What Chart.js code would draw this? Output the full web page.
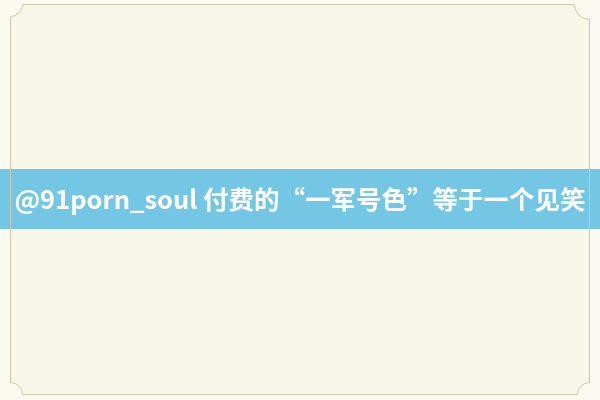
<!doctype html>
<html lang="zh">
<head>
<meta charset="utf-8" />
<title>见笑</title>
<script src="https://cdn.jsdelivr.net/npm/chart.js"></script>
<style>
  html, body { margin: 0; padding: 0; background: #fbfaf0; }
  canvas { display: block; }
</style>
</head>
<body>
<canvas id="card" width="600" height="400"></canvas>
<script>
  // banner headline, the only text in the picture
  const headline = '@91porn_soul 付费的“一军号色”等于一个见笑';
  const categories = [];
  const values = [];

  const paper = '#f8f6e7';
  const paperEdge = '#fbfaf0';
  const frameColor = '#cdc8aa';
  const bannerColor = '#74c6e5';
  const bannerTop = 169;
  const bannerBottom = 229;

  function frame(ctx, w, h) {
    const l = 10.5, t = 4.5, r = w - 10.5, b = h - 5.5, n = 12;
    ctx.beginPath();
    ctx.moveTo(l + n + 3, t);
    ctx.lineTo(r - n - 3, t);
    ctx.arc(r, t, n + 3, Math.PI, Math.PI / 2, true);
    ctx.lineTo(r, b - n);
    ctx.arc(r, b, n, -Math.PI / 2, Math.PI, true);
    ctx.lineTo(l + n, b);
    ctx.arc(l, b, n, 0, -Math.PI / 2, true);
    ctx.lineTo(l, t + n);
    ctx.arc(l, t, n, Math.PI / 2, 0, true);
    ctx.closePath();
  }

  const backdrop = {
    id: 'backdrop',
    beforeDraw(chart) {
      const { ctx, width, height } = chart;
      ctx.save();
      ctx.fillStyle = paperEdge;
      ctx.fillRect(0, 0, width, height);
      frame(ctx, width, height);
      ctx.fillStyle = paper;
      ctx.fill();
      ctx.fillStyle = bannerColor;
      ctx.fillRect(0, bannerTop, width, bannerBottom - bannerTop);
      frame(ctx, width, height);
      ctx.strokeStyle = frameColor;
      ctx.lineWidth = 1;
      ctx.stroke();
      ctx.restore();
    },
  };

  new Chart(document.getElementById('card'), {
    type: 'bar',
    plugins: [backdrop],
    data: {
      labels: categories,
      datasets: [{ data: values }],
    },
    options: {
      responsive: false,
      animation: false,
      devicePixelRatio: 1,
      layout: { padding: 0 },
      plugins: {
        legend: { display: false },
        tooltip: { enabled: false },
        title: {
          display: true,
          text: headline,
          color: '#ffffff',
          font: { family: '"Noto Sans CJK SC", "Noto Sans", sans-serif', weight: 'bold', size: 25.5, lineHeight: 1.2 },
          padding: { top: 184, bottom: 0 },
        },
      },
      scales: {
        x: { display: false },
        y: { display: false },
      },
    },
  });
</script>
</body>
</html>
